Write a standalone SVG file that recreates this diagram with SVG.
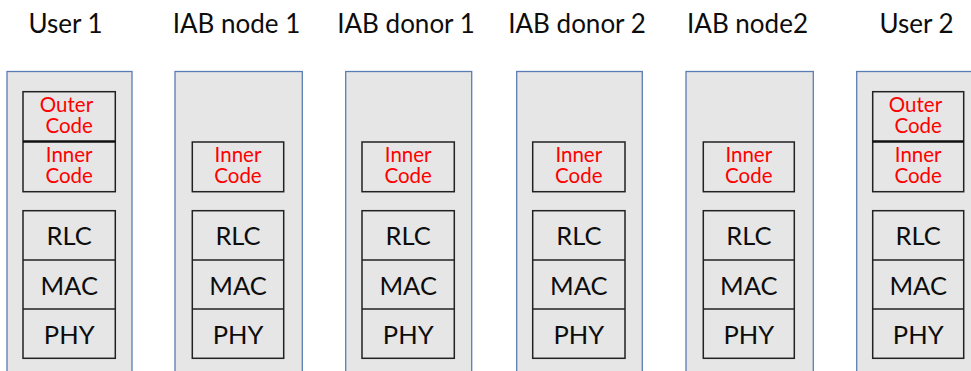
<svg xmlns="http://www.w3.org/2000/svg" width="971" height="371" viewBox="0 0 971 371">
  <style>
    .col { fill: #e6e6e6; stroke: #5a7cb4; stroke-width: 1.3; }
    .box { fill: #e6e6e6; stroke: #222; stroke-width: 1.5; }
    .div { stroke: #111; stroke-width: 2.6; }
    .sep { stroke: #222; stroke-width: 1.5; }
    .title { font-family: Lato, "Liberation Sans", sans-serif; font-size: 26px; fill: #0d0d0d; text-anchor: middle; }
    .layer { font-family: Lato, "Liberation Sans", sans-serif; font-size: 25.5px; fill: #0d0d0d; text-anchor: middle; }
    .code { font-family: Lato, "Liberation Sans", sans-serif; font-size: 20.5px; fill: #ff0000; text-anchor: middle; }
  </style>
  <rect width="971" height="371" fill="#ffffff"/>

  <!-- column headings -->
  <g id="titles">
    <text class="title" x="65.5" y="33">User 1</text>
    <text class="title" x="236.5" y="33">IAB node 1</text>
    <text class="title" x="406" y="33">IAB donor 1</text>
    <text class="title" x="577" y="33">IAB donor 2</text>
    <text class="title" x="747.5" y="33">IAB node2</text>
    <text class="title" x="916.5" y="33">User 2</text>
  </g>

  <!-- User 1 stack -->
  <g id="user1">
    <rect class="col" x="7" y="71.5" width="125" height="310"/>
    <rect class="box" x="23" y="91.7" width="92.3" height="100"/>
    <line class="div" x1="23" y1="141.5" x2="115.3" y2="141.5"/>
    <text class="code" x="66.5" y="111.5">Outer</text>
    <text class="code" x="69.2" y="133">Code</text>
    <text class="code" x="69.2" y="161.5">Inner</text>
    <text class="code" x="69.2" y="183">Code</text>
    <rect class="box" x="23" y="210.7" width="92.3" height="147.6"/>
    <line class="sep" x1="23" y1="260" x2="115.3" y2="260"/>
    <line class="sep" x1="23" y1="309" x2="115.3" y2="309"/>
    <text class="layer" x="69.2" y="245">RLC</text>
    <text class="layer" x="69.2" y="295">MAC</text>
    <text class="layer" x="69.2" y="344">PHY</text>
  </g>

  <!-- IAB node 1 stack -->
  <g id="iab-node1">
    <rect class="col" x="175" y="71.5" width="127.3" height="310"/>
    <rect class="box" x="192.3" y="142" width="91.4" height="49.7"/>
    <text class="code" x="238" y="161.5">Inner</text>
    <text class="code" x="238" y="183">Code</text>
    <rect class="box" x="192.3" y="210.7" width="91.4" height="147.6"/>
    <line class="sep" x1="192.3" y1="260" x2="283.7" y2="260"/>
    <line class="sep" x1="192.3" y1="309" x2="283.7" y2="309"/>
    <text class="layer" x="238" y="245">RLC</text>
    <text class="layer" x="238" y="295">MAC</text>
    <text class="layer" x="238" y="344">PHY</text>
  </g>

  <!-- IAB donor 1 stack -->
  <g id="iab-donor1">
    <rect class="col" x="345.7" y="71.5" width="126" height="310"/>
    <rect class="box" x="362" y="142" width="92.3" height="49.7"/>
    <text class="code" x="408.2" y="161.5">Inner</text>
    <text class="code" x="408.2" y="183">Code</text>
    <rect class="box" x="362" y="210.7" width="92.3" height="147.6"/>
    <line class="sep" x1="362" y1="260" x2="454.3" y2="260"/>
    <line class="sep" x1="362" y1="309" x2="454.3" y2="309"/>
    <text class="layer" x="408.2" y="245">RLC</text>
    <text class="layer" x="408.2" y="295">MAC</text>
    <text class="layer" x="408.2" y="344">PHY</text>
  </g>

  <!-- IAB donor 2 stack -->
  <g id="iab-donor2">
    <rect class="col" x="516.7" y="71.5" width="125.6" height="310"/>
    <rect class="box" x="532.7" y="142" width="92.3" height="49.7"/>
    <text class="code" x="578.8" y="161.5">Inner</text>
    <text class="code" x="578.8" y="183">Code</text>
    <rect class="box" x="532.7" y="210.7" width="92.3" height="147.6"/>
    <line class="sep" x1="532.7" y1="260" x2="625" y2="260"/>
    <line class="sep" x1="532.7" y1="309" x2="625" y2="309"/>
    <text class="layer" x="578.8" y="245">RLC</text>
    <text class="layer" x="578.8" y="295">MAC</text>
    <text class="layer" x="578.8" y="344">PHY</text>
  </g>

  <!-- IAB node2 stack -->
  <g id="iab-node2">
    <rect class="col" x="686" y="71.5" width="127.3" height="310"/>
    <rect class="box" x="703.3" y="142" width="91" height="49.7"/>
    <text class="code" x="748.8" y="161.5">Inner</text>
    <text class="code" x="748.8" y="183">Code</text>
    <rect class="box" x="703.3" y="210.7" width="91" height="147.6"/>
    <line class="sep" x1="703.3" y1="260" x2="794.3" y2="260"/>
    <line class="sep" x1="703.3" y1="309" x2="794.3" y2="309"/>
    <text class="layer" x="748.8" y="245">RLC</text>
    <text class="layer" x="748.8" y="295">MAC</text>
    <text class="layer" x="748.8" y="344">PHY</text>
  </g>

  <!-- User 2 stack -->
  <g id="user2">
    <rect class="col" x="856.7" y="71.5" width="127" height="310"/>
    <rect class="box" x="872.7" y="91.7" width="91" height="100"/>
    <line class="div" x1="872.7" y1="141.5" x2="963.7" y2="141.5"/>
    <text class="code" x="915.5" y="111.5">Outer</text>
    <text class="code" x="918.2" y="133">Code</text>
    <text class="code" x="918.2" y="161.5">Inner</text>
    <text class="code" x="918.2" y="183">Code</text>
    <rect class="box" x="872.7" y="210.7" width="91" height="147.6"/>
    <line class="sep" x1="872.7" y1="260" x2="963.7" y2="260"/>
    <line class="sep" x1="872.7" y1="309" x2="963.7" y2="309"/>
    <text class="layer" x="918.2" y="245">RLC</text>
    <text class="layer" x="918.2" y="295">MAC</text>
    <text class="layer" x="918.2" y="344">PHY</text>
  </g>

  <!-- no connectors between the stacks -->
  <g id="connectors"/>
</svg>
